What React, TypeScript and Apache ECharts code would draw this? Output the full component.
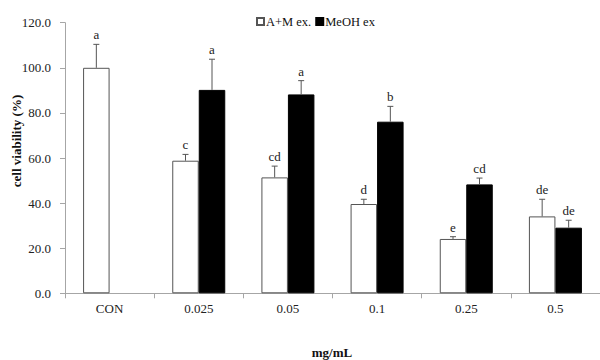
import React, { useEffect, useRef } from "react";
import * as echarts from "echarts";

const categories = ["CON", "0.025", "0.05", "0.1", "0.25", "0.5"];
const amValues = [100, 58.8, 51.4, 39.6, 24.1, 34.1];
const amErrors = [10.4, 2.8, 5.0, 2.1, 1.0, 7.6];
const amLetters = ["a", "c", "cd", "d", "e", "de"];
const meohValues: (number | null)[] = [null, 90.2, 88.2, 76.1, 48.3, 29.1];
const meohErrors: (number | null)[] = [null, 13.6, 6.1, 6.8, 2.8, 3.3];
const meohLetters = ["", "a", "a", "b", "cd", "de"];
const yTicks = [0, 20, 40, 60, 80, 100, 120];

const FONT = "Liberation Serif";
const BAR_W = 26.5;

function errorSeries(name: string, values: (number | null)[], errors: (number | null)[], letters: string[], side: number) {
  const data = values.map((v, i) => [i, v == null ? null : v, errors[i] == null ? 0 : errors[i]]);
  return {
    type: "custom",
    name: name + "_err",
    z: 5,
    silent: true,
    data: data.filter((d) => d[1] != null),
    renderItem: (params: any, api: any) => {
      const idx = api.value(0);
      const v = api.value(1);
      const e = api.value(2);
      const letter = letters[idx];
      const base = api.coord([idx, v]);
      const top = api.coord([idx, v + e]);
      const x = base[0] + side * BAR_W / 2;
      return {
        type: "group",
        children: [
          { type: "line", shape: { x1: x, y1: base[1], x2: x, y2: top[1] }, style: { stroke: "#555", lineWidth: 1 } },
          { type: "line", shape: { x1: x - 3, y1: top[1], x2: x + 3, y2: top[1] }, style: { stroke: "#555", lineWidth: 1 } },
          {
            type: "text",
            x: x,
            y: top[1] - 3,
            style: { text: letter, fill: "#222", font: `13px "${FONT}"`, align: "center", verticalAlign: "bottom" },
          },
        ],
      };
    },
  };
}

export default function App() {
  const ref = useRef<HTMLDivElement>(null);
  useEffect(() => {
    const chart = echarts.init(ref.current!, null, { renderer: "svg" });
    chart.setOption({
      animation: false,
      backgroundColor: "#fff",
      textStyle: { fontFamily: FONT },
      legend: {
        left: 251,
        top: 10,
        icon: "rect",
        itemWidth: 7,
        itemHeight: 7,
        itemGap: 4,
        textStyle: { fontFamily: FONT, fontSize: 12.5, color: "#111", padding: [0, 0, 0, -3] },
        data: ["A+M ex.", "MeOH ex"],
      },
      grid: { left: 65, right: -8, top: 22.7, bottom: 66.7, containLabel: false },
      xAxis: {
        type: "category",
        data: categories,
        boundaryGap: true,
        axisLine: { lineStyle: { color: "#a6a6a6" } },
        axisTick: { show: true, length: 5, lineStyle: { color: "#a6a6a6" }, inside: false },
        axisLabel: { fontFamily: FONT, fontSize: 13, color: "#222", margin: 9 },
      },
      yAxis: {
        type: "value",
        min: yTicks[0],
        max: yTicks[yTicks.length - 1],
        interval: 20,
        splitLine: { show: false },
        axisLine: { show: true, lineStyle: { color: "#a6a6a6" } },
        axisTick: { show: true, length: 5, lineStyle: { color: "#a6a6a6" } },
        axisLabel: { fontFamily: FONT, fontSize: 13, color: "#222", margin: 14, formatter: (v: number) => v.toFixed(1) },
      },
      graphic: [
        {
          type: "text",
          x: 16,
          y: 141,
          rotation: Math.PI / 2,
          style: { text: "cell viability (%)", font: `bold 13px "${FONT}"`, fill: "#111", align: "center", verticalAlign: "middle" },
        },
        {
          type: "text",
          x: 332,
          y: 352,
          style: { text: "mg/mL", font: `bold 13px "${FONT}"`, fill: "#111", align: "center", verticalAlign: "middle" },
        },
      ],
      series: [
        {
          name: "A+M ex.",
          type: "bar",
          data: amValues,
          barWidth: BAR_W,
          barGap: "0%",
          itemStyle: { color: "#fff", borderColor: "#555", borderWidth: 1 },
        },
        {
          name: "MeOH ex",
          type: "bar",
          data: meohValues,
          barWidth: BAR_W,
          barGap: "0%",
          itemStyle: { color: "#000", borderColor: "#000", borderWidth: 1 },
        },
        errorSeries("A+M ex.", amValues, amErrors, amLetters, -1),
        errorSeries("MeOH ex", meohValues, meohErrors, meohLetters, 1),
      ],
    });
    return () => chart.dispose();
  }, []);
  return <div ref={ref} style={{ width: 600, height: 360, position: "absolute", left: 0, top: 0 }} />;
}
